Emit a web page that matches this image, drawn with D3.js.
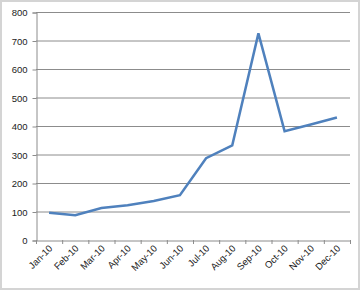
<!DOCTYPE html>
<html><head><meta charset="utf-8">
<script src="https://cdn.jsdelivr.net/npm/d3@7"></script>
<style>body{margin:0;background:#fff}svg{display:block}text{font-family:"Liberation Sans",Arial,sans-serif;font-size:9.5px;fill:#222}</style>
</head><body><svg id="c" width="362" height="292"></svg>
<script>
const months = ["Jan-10","Feb-10","Mar-10","Apr-10","May-10","Jun-10","Jul-10","Aug-10","Sep-10","Oct-10","Nov-10","Dec-10"];
const values = [96, 87, 112, 122, 137, 157, 287, 332, 725, 382, 405, 430];
const yTicks = [0,100,200,300,400,500,600,700,800];

const svg = d3.select("#c");
svg.append("rect").attr("x",1).attr("y",1).attr("width",358).attr("height",288)
  .attr("fill","#fff").attr("stroke","#d4d4d4").attr("stroke-width",2);

const m = {l:36, r:350, t:12, b:240};
const x = d3.scaleBand().domain(months).range([m.l, m.r]);
const y = d3.scaleLinear().domain([0,800]).range([m.b, m.t]);

svg.append("g").selectAll("line").data(yTicks.filter(d=>d>0)).join("line")
  .attr("x1",m.l).attr("x2",m.r).attr("y1",d=>y(d)+0.5).attr("y2",d=>y(d)+0.5)
  .attr("stroke","#8c8c8c").attr("stroke-width",1);

const ya = svg.append("g").attr("transform",`translate(${m.l+0.5},0.5)`)
  .call(d3.axisLeft(y).tickValues(yTicks).tickSize(4).tickPadding(5));
ya.select(".domain").attr("stroke","#8c8c8c");
ya.selectAll(".tick line").attr("stroke","#8c8c8c");
ya.selectAll("text").attr("font-size",9.5).attr("fill","#222").attr("font-family","Liberation Sans, Arial, sans-serif");

const xa = svg.append("g").attr("transform",`translate(0.5,${m.b+0.5})`)
  .call(d3.axisBottom(x).tickSize(0).tickFormat(""));
xa.select(".domain").attr("stroke","#8c8c8c");
xa.selectAll(".tick").remove();
svg.append("g").selectAll("line").data(months.map((d,i)=>i).concat([12])).join("line")
  .attr("x1",i=>(i<12?x(months[i]):m.r)+0.5).attr("x2",i=>(i<12?x(months[i]):m.r)+0.5)
  .attr("y1",m.b).attr("y2",m.b+4).attr("stroke","#8c8c8c");

svg.append("g").selectAll("text").data(months).join("text")
  .attr("text-anchor","end")
  .attr("transform",d=>`translate(${x(d)+x.bandwidth()/2+4},${m.b+9}) rotate(-45)`)
  .text(d=>d);

const line = d3.line().x((d,i)=>x(months[i])+x.bandwidth()/2).y(d=>y(d));
svg.append("path").datum(values).attr("d",line)
  .attr("fill","none").attr("stroke","#4f81bd").attr("stroke-width",2.5).attr("stroke-linejoin","miter");
</script></body></html>
